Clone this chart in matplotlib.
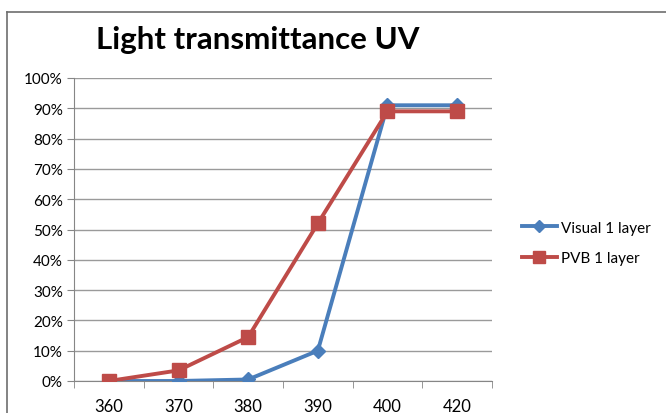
import numpy as np
import matplotlib.pyplot as plt
from matplotlib.lines import Line2D

plt.rcParams['font.family'] = ['Lato', 'DejaVu Sans']

# data
wavelengths = ['360', '370', '380', '390', '400', '420']
visual_1 = [0, 0, 0.5, 10, 91, 91]
pvb_1 = [0, 3.5, 14.5, 52, 89, 89]

fig = plt.figure(figsize=(6.66, 4.14), dpi=100)
ax = fig.add_axes([74/666, 32/414, 418/666, 303/414])

x = np.arange(len(wavelengths))
blue = '#4a7ebb'
red = '#be4b48'
ax.plot(x, visual_1, color=blue, lw=2.8, marker='D', ms=7.5, label='Visual 1 layer', zorder=3)
ax.plot(x, pvb_1, color=red, lw=2.8, marker='s', ms=10.5, label='PVB 1 layer', zorder=4)

ax.set_xlim(-0.5, len(x) - 0.5)
ax.set_ylim(0, 100)
ax.set_yticks(np.arange(0, 101, 10))
ax.set_yticklabels([f'{v}%' for v in range(0, 101, 10)], fontsize=11)
ax.set_xticks(x)
ax.set_xticklabels(wavelengths, fontsize=12)
ax.set_xticks(np.arange(-0.5, len(x)), minor=True)
ax.tick_params(axis='x', which='major', length=0, pad=12)
ax.tick_params(axis='x', which='minor', length=5, color='#868686')
ax.tick_params(axis='y', length=5, color='#868686', pad=3)
ax.grid(axis='y', color='#9a9a9a', lw=1)
for s in ['top', 'right']:
    ax.spines[s].set_visible(False)
for s in ['left', 'bottom']:
    ax.spines[s].set_color('#868686')

fig.text(258/666, 1 - 40/414, 'Light transmittance UV', fontsize=22.5, fontweight='bold',
         ha='center', va='center')

handles = [Line2D([], [], color=blue, lw=2.8, marker='D', ms=6.5),
           Line2D([], [], color=red, lw=2.8, marker='s', ms=9)]
fig.legend(handles, ['Visual 1 layer', 'PVB 1 layer'], loc='center left',
           bbox_to_anchor=(508/666, 1 - 244/414), frameon=False, fontsize=11,
           handlelength=2.3, labelspacing=1.1, handletextpad=0.3)

# chart border
fig.add_artist(Line2D([7/666, 7/666], [0, 1 - 13/414], color='#6e6e6e', lw=1.2))
fig.add_artist(Line2D([7/666, 1], [1 - 13/414, 1 - 13/414], color='#6e6e6e', lw=1.2))

fig.savefig('out.png', dpi=100)
